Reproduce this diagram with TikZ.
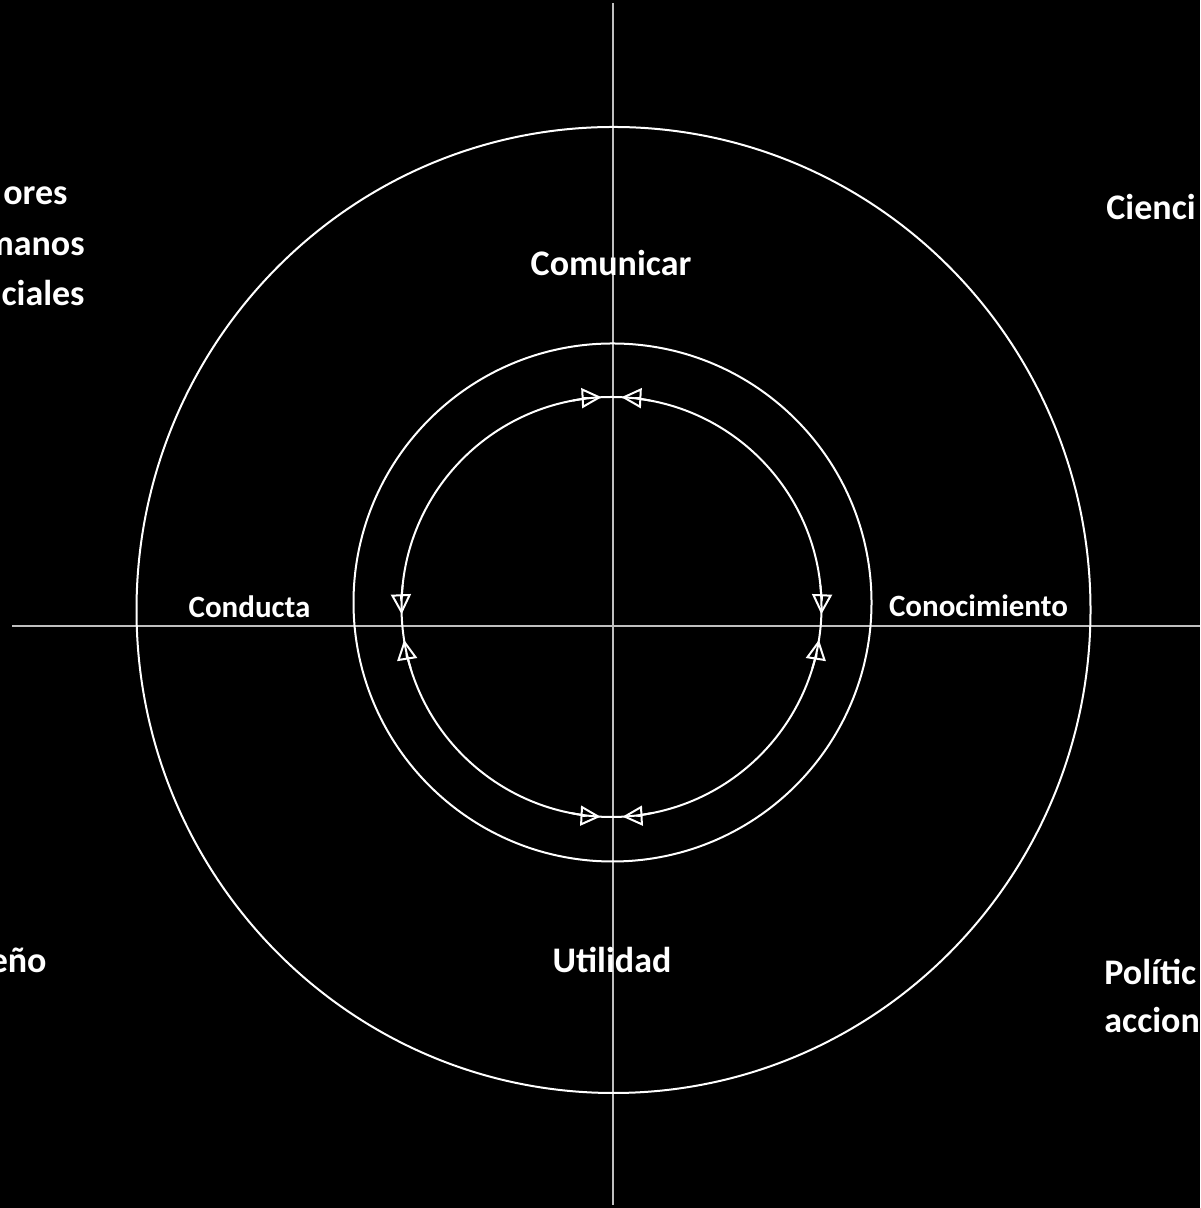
\documentclass[tikz,border=0pt]{standalone}
\usepackage{fontspec}
\setmainfont{Carlito}
\usetikzlibrary{arrows.meta}
\tikzset{
  axisline/.style={draw=gray!50!white, line width=0.7pt},
  ring/.style={draw=white, line width=1pt},
  flowtip/.style={draw=white, line width=1pt,
    -{Triangle[open,length=10pt,width=10pt]}},
  biglabel/.style={text=white, font=\fontsize{18}{22}\selectfont\bfseries, inner sep=0pt},
  smalllabel/.style={text=white, font=\fontsize{15.5}{19}\selectfont\bfseries, inner sep=0pt},
}
\begin{document}
\begin{tikzpicture}[x=0.5pt,y=0.5pt]
\fill[black] (0,0) rectangle (1200,1208);
\useasboundingbox (0,0) rectangle (1200,1208);
\clip (0,0) rectangle (1200,1208);
% axes
\coordinate (top) at (613,1205);
\coordinate (bottom) at (613,3);
\coordinate (left) at (12,582);
\coordinate (right) at (1200,582);
\draw[axisline] (top) -- (bottom);
\draw[axisline] (left) -- (right);
% rings
\draw[ring] (613.5,598) ellipse[x radius=477, y radius=483];
\draw[ring] (612.5,605.5) circle[radius=259];
\coordinate (c) at (611.5,601);
\draw[ring] (c) circle[radius=210];
% cycle arrows on the inner ring (short arcs ending at each tip)
\foreach \a/\b in {79.3/87.3, 100.7/92.7, 6/-2, 174/182,
                   197/189, 259/267, 281/273, 343/351}
  \draw[flowtip] (c) ++(\a:210) arc[start angle=\a, end angle=\b, radius=210];
% labels
\node[biglabel, anchor=base] (comunicar) at (611,932) {Comunicar};
\node[biglabel, anchor=base] (utilidad) at (612,235) {Utilidad};
\node[smalllabel, anchor=base] (conducta) at (249.5,590) {Conducta};
\node[smalllabel, anchor=base] (conocimiento) at (978.5,591) {Conocimiento};
\node[biglabel, anchor=base east] (valores) at (68,1003) {ores};
\node[biglabel, anchor=base east] (humanos) at (85,952) {manos};
\node[biglabel, anchor=base east] (sociales) at (85,902) {ciales};
\node[biglabel, anchor=base east] (diseno) at (47,235) {eño};
\node[biglabel, anchor=base west] (ciencia) at (1106,988) {Cienci};
\node[biglabel, anchor=base west] (politica) at (1104,223) {Polític};
\node[biglabel, anchor=base west] (acciones) at (1104,175) {accion};
\end{tikzpicture}
\end{document}
